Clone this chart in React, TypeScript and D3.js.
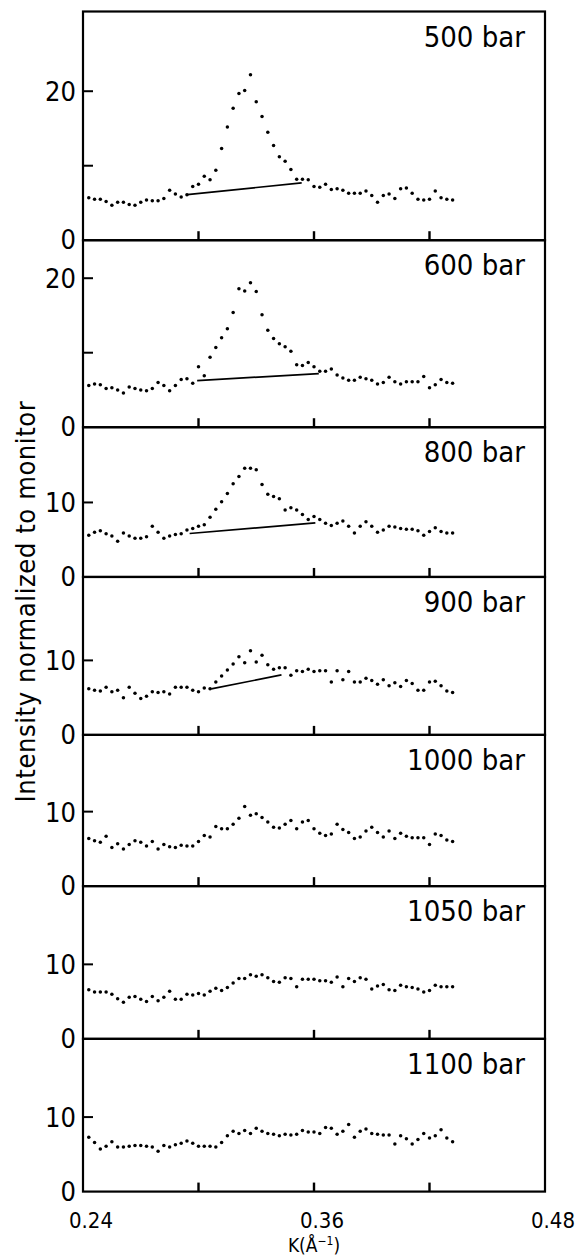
import React from 'react';
import * as d3 from 'd3';

// K grid (Å^-1), shared by all panels
const kValues = [
  0.243, 0.246, 0.249, 0.252, 0.255, 0.258, 0.261, 0.264, 0.267, 0.270,
  0.273, 0.276, 0.279, 0.282, 0.285, 0.288, 0.291, 0.294, 0.297, 0.300,
  0.303, 0.306, 0.309, 0.312, 0.315, 0.318, 0.321, 0.324, 0.327, 0.330,
  0.333, 0.336, 0.339, 0.342, 0.345, 0.348, 0.351, 0.354, 0.357, 0.360,
  0.363, 0.366, 0.369, 0.372, 0.375, 0.378, 0.381, 0.384, 0.387, 0.390,
  0.393, 0.396, 0.399, 0.402, 0.405, 0.408, 0.411, 0.414, 0.417, 0.420,
  0.423, 0.426, 0.429, 0.432,
];

const pressureLabels = ['500 bar', '600 bar', '800 bar', '900 bar', '1000 bar', '1050 bar', '1100 bar'];

const s500 = [5.7, 5.5, 5.5, 5.2, 4.7, 5.1, 5.1, 4.8, 4.7, 5.1, 5.4, 5.3, 5.3, 5.6, 6.7, 6.2, 5.8, 6.1, 7.2, 7.5, 8.6, 8.1, 9.4, 12.3, 15.2, 17.7, 19.7, 20.1, 22.2, 18.6, 16.6, 14.5, 12.7, 11.2, 10.6, 9.5, 8.2, 8.2, 8.1, 7.2, 7.1, 7.5, 6.8, 6.9, 6.7, 6.3, 6.3, 6.3, 6.6, 6.0, 5.1, 6.0, 6.2, 5.6, 6.9, 7.0, 6.3, 5.5, 5.4, 5.5, 6.6, 5.7, 5.5, 5.4];
const s600 = [5.6, 5.8, 5.7, 5.2, 5.3, 5.0, 4.6, 5.4, 5.2, 5.0, 4.9, 5.2, 6.0, 5.6, 4.9, 5.6, 6.4, 6.5, 5.9, 8.1, 6.9, 9.4, 10.7, 12.0, 13.2, 15.4, 18.6, 18.3, 19.4, 18.2, 15.1, 13.0, 11.9, 11.2, 10.8, 10.2, 8.4, 8.3, 8.7, 8.1, 7.5, 7.5, 7.8, 7.0, 6.6, 6.3, 6.3, 6.7, 6.5, 6.3, 5.8, 6.0, 6.7, 6.1, 5.8, 6.1, 6.1, 6.1, 6.8, 5.3, 5.7, 6.4, 6.0, 5.9];
const s800 = [5.6, 6.0, 6.2, 5.8, 5.5, 4.8, 5.9, 5.5, 5.2, 5.2, 5.4, 6.8, 6.0, 5.2, 5.5, 5.7, 5.8, 6.3, 6.5, 6.8, 7.0, 8.0, 9.1, 10.1, 11.2, 12.5, 13.5, 14.6, 14.6, 14.4, 12.4, 11.1, 10.8, 10.5, 9.0, 9.3, 9.0, 8.4, 7.7, 8.1, 7.7, 7.2, 6.9, 7.2, 7.5, 6.8, 5.9, 6.8, 7.4, 6.8, 6.0, 6.3, 6.8, 6.7, 6.5, 6.4, 6.4, 6.2, 5.6, 6.1, 6.6, 6.1, 5.9, 5.9];
const s900 = [6.2, 6.0, 5.9, 6.4, 5.8, 6.0, 5.0, 6.4, 5.6, 4.9, 5.2, 5.8, 5.7, 5.8, 5.5, 6.4, 6.4, 6.4, 6.0, 5.8, 6.3, 6.2, 7.1, 7.9, 8.7, 9.5, 10.5, 9.7, 11.3, 9.8, 10.7, 9.4, 8.8, 9.0, 9.0, 8.0, 8.6, 8.5, 8.8, 8.5, 8.6, 8.6, 7.1, 8.6, 7.4, 8.5, 7.1, 7.1, 7.6, 7.3, 6.8, 7.4, 6.6, 7.0, 6.5, 7.3, 6.9, 6.0, 6.0, 7.1, 7.2, 6.6, 5.9, 5.7];
const s1000 = [6.4, 6.1, 5.9, 6.7, 5.2, 5.7, 5.0, 5.6, 6.1, 5.9, 5.4, 6.0, 5.0, 5.6, 5.3, 5.2, 5.5, 5.4, 5.4, 6.0, 6.8, 6.6, 8.0, 7.7, 7.7, 8.3, 9.1, 10.7, 9.5, 9.7, 9.2, 8.6, 7.9, 7.8, 8.3, 8.8, 7.7, 8.6, 8.8, 7.7, 7.1, 6.8, 7.0, 8.3, 7.6, 7.2, 6.4, 6.6, 7.4, 7.9, 7.2, 6.6, 7.4, 6.4, 7.1, 6.7, 6.5, 6.5, 6.5, 5.6, 7.0, 6.8, 6.2, 6.0];
const s1050 = [6.6, 6.3, 6.3, 6.3, 6.0, 5.4, 4.9, 5.6, 5.7, 5.3, 5.0, 5.7, 5.1, 5.6, 6.4, 5.3, 5.3, 6.0, 5.9, 6.1, 5.9, 6.4, 6.8, 6.5, 6.9, 7.5, 8.1, 8.1, 8.6, 8.4, 8.6, 8.2, 7.7, 7.6, 8.2, 8.1, 7.0, 8.0, 8.0, 8.0, 7.8, 7.8, 7.6, 8.3, 7.0, 8.1, 7.7, 8.2, 8.0, 6.7, 7.1, 7.3, 6.6, 6.5, 7.2, 7.0, 6.9, 6.7, 6.3, 6.5, 7.2, 7.0, 7.0, 7.0];
const s1100 = [7.3, 6.6, 5.7, 6.1, 6.7, 6.0, 6.0, 6.1, 6.2, 6.2, 6.1, 6.0, 5.4, 6.2, 6.0, 6.3, 6.5, 6.8, 6.5, 6.1, 6.1, 6.1, 6.0, 6.6, 7.5, 8.1, 7.8, 8.2, 7.8, 8.5, 8.1, 7.8, 7.7, 7.5, 7.7, 7.6, 7.7, 8.2, 8.0, 8.0, 7.8, 8.6, 8.5, 7.7, 8.1, 9.0, 7.3, 8.1, 8.4, 7.8, 7.7, 7.6, 7.6, 6.4, 7.5, 7.1, 6.4, 7.0, 7.8, 7.2, 7.5, 8.3, 7.2, 6.7];

const seriesList = [s500, s600, s800, s900, s1000, s1050, s1100];

// y-axis maximum of each panel
const yMax = [30.7, 25.1, 20.1, 21.2, 20.3, 20.5, 20.5];
// y ticks per panel and which of them carry a label
const yTicks = [[10, 20], [10, 20], [10], [10], [10], [10], [10]];
const yTickLabels = [[20], [20], [10], [10], [10], [10], [10]];

// background lines [k0, i0, k1, i1] per panel (null = none)
const baselines: (number[] | null)[] = [
  [0.2941, 6.13, 0.3536, 7.69],
  [0.2993, 6.26, 0.3625, 7.2],
  [0.2954, 5.83, 0.3607, 7.25],
  [0.3066, 6.17, 0.3431, 8.05],
  null, null, null,
];

const xTicks = [0.30, 0.36, 0.42];
const xTickLabels = [0.24, 0.36, 0.48];

const FONT = "'Liberation Sans Narrow', 'DejaVu Sans Condensed', 'Liberation Sans', sans-serif";
const PX_PER_UNIT = 7.45;
const TOP = 11.5;
const LEFT = 83;
const RIGHT = 545;

export default function App() {
  const x = d3.scaleLinear().domain([0.24, 0.48]).range([LEFT, RIGHT]);
  let cursor = TOP;
  const panels = seriesList.map((vals, p) => {
    const h = yMax[p] * PX_PER_UNIT;
    const t = cursor;
    const b = cursor + h;
    cursor = b;
    const y = d3.scaleLinear().domain([0, yMax[p]]).range([b, t]);
    return { vals, p, t, b, y };
  });
  const bottom = cursor;
  const line = d3.line<[number, number]>();

  return (
    <svg width={583} height={1256} style={{ position: 'absolute', left: 0, top: 0, background: '#fff' }}>
      <rect x={0} y={0} width={583} height={1256} fill="#fff" />
      {panels.map(({ vals, p, t, b, y }) => (
        <g key={p}>
          <rect x={LEFT} y={t} width={RIGHT - LEFT} height={b - t} fill="none" stroke="#000" strokeWidth={2.2} />
          {yTicks[p].map((v) => (
            <line key={'yt' + v} x1={LEFT} x2={LEFT + 10} y1={y(v)} y2={y(v)} stroke="#000" strokeWidth={2} />
          ))}
          {yTickLabels[p].map((v) => (
            <text key={'yl' + v} x={76} y={y(v) + 10} textAnchor="end" fontFamily={FONT} fontSize={27}>{v}</text>
          ))}
          <text x={76} y={y(0) + 9} textAnchor="end" fontFamily={FONT} fontSize={27}>0</text>
          {xTicks.map((v) => (
            <line key={'xt' + v} x1={x(v)} x2={x(v)} y1={b} y2={b - 9} stroke="#000" strokeWidth={2.4} />
          ))}
          {baselines[p] && (
            <path
              d={line([[x(baselines[p]![0]), y(baselines[p]![1])], [x(baselines[p]![2]), y(baselines[p]![3])]]) || ''}
              stroke="#000" strokeWidth={1.7} fill="none"
            />
          )}
          {vals.map((v, i) => (
            <circle key={i} cx={x(kValues[i])} cy={y(v)} r={1.75} fill="#000" />
          ))}
          <text x={525} y={t + 35} textAnchor="end" fontFamily={FONT} fontSize={29}>{pressureLabels[p]}</text>
        </g>
      ))}
      {xTickLabels.map((v) => (
        <text key={'xl' + v} x={x(v) + 8} y={1228} textAnchor="middle" fontFamily={FONT} fontSize={22}>{v.toFixed(2)}</text>
      ))}
      <text x={x(0.36)} y={1251.5} textAnchor="middle" fontFamily={FONT} fontSize={19}>
        K(Å<tspan dy={-7} fontSize={12}>−1</tspan><tspan dy={7}>)</tspan>
      </text>
      <text
        transform={`translate(35, ${(TOP + bottom) / 2}) rotate(-90)`}
        textAnchor="middle" fontFamily={FONT} fontSize={27} letterSpacing={0.6}
      >Intensity normalized to monitor</text>
    </svg>
  );
}
